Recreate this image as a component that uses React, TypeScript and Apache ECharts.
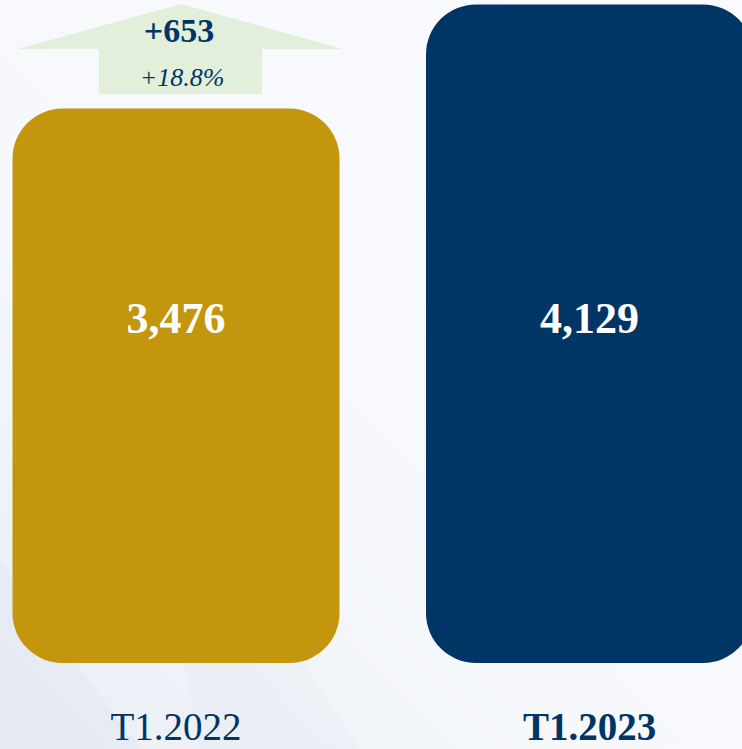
import React, { useEffect, useRef } from "react";
import * as echarts from "echarts";

const categories = ["T1.2022", "T1.2023"];
const values = [3476, 4129];
const barColors = ["#C4960D", "#003566"];

const diff = values[1] - values[0];
const pct = (diff / values[0]) * 100;
const FONT = "'Liberation Serif', 'DejaVu Serif', serif";
const NAVY = "#003566";

export default function App() {
  const ref = useRef<HTMLDivElement>(null);
  useEffect(() => {
    if (!ref.current) return;
    const chart = echarts.init(ref.current, null, { renderer: "svg" });
    const labelValue = 2157;
    chart.setOption({
      animation: false,
      backgroundColor: {
        type: "linear",
        x: 1, y: 0, x2: 0, y2: 1,
        colorStops: [
          { offset: 0, color: "#FAFBFE" },
          { offset: 0.6, color: "#F6F8FC" },
          { offset: 1, color: "#E9EEF5" },
        ],
      },
      grid: {
        left: 176,
        right: 152.5,
        top: 0,
        bottom: 86,
        containLabel: false,
        outerBoundsMode: "none",
      },
      xAxis: {
        type: "category",
        data: categories,
        boundaryGap: false,
        axisLine: { show: false },
        axisTick: { show: false },
        axisLabel: {
          margin: 44,
          formatter: (v: string, i: number) => (i === 1 ? `{b|${v}}` : `{a|${v}}`),
          rich: {
            a: { fontFamily: FONT, fontSize: 39, color: NAVY, fontWeight: "normal" },
            b: { fontFamily: FONT, fontSize: 39, color: NAVY, fontWeight: "bold" },
          },
        },
      },
      yAxis: { type: "value", min: 0, max: 4157, show: false },
      graphic: [
        {
          type: "polygon",
          silent: true,
          z: -1,
          shape: { points: [[0, 560], [140, 749], [0, 749]] },
          style: { fill: "rgba(200,210,225,0.15)" },
        },
        {
          type: "polygon",
          silent: true,
          z: -1,
          shape: { points: [[140, 420], [360, 749], [200, 749]] },
          style: { fill: "rgba(210,218,230,0.12)" },
        },
        {
          type: "polygon",
          silent: true,
          z: 10,
          shape: {
            points: [
              [18, 49], [181, 4], [343, 49], [262, 49], [262, 94], [99, 94], [99, 49],
            ],
          },
          style: { fill: "#E2EFDA" },
        },
        {
          type: "text",
          z: 11,
          x: 179, y: 30,
          style: {
            text: `+${diff}`,
            fontFamily: FONT, fontSize: 34, fontWeight: "bold", fill: NAVY,
            align: "center", verticalAlign: "middle",
          },
        },
        {
          type: "text",
          z: 11,
          x: 182, y: 77,
          style: {
            text: `+${pct.toFixed(1)}%`,
            fontFamily: FONT, fontSize: 26, fontStyle: "italic", fill: NAVY,
            align: "center", verticalAlign: "middle",
          },
        },
      ],
      series: [
        {
          type: "bar",
          barWidth: 327,
          clip: false,
          data: values.map((v, i) => ({
            value: v,
            itemStyle: { color: barColors[i], borderRadius: 50 },
          })),
        },
        {
          type: "scatter",
          symbolSize: 0,
          silent: true,
          clip: false,
          z: 5,
          itemStyle: { opacity: 1 },
          data: values.map(() => labelValue),
          label: {
            show: true,
            position: "inside",
            formatter: (p: any) => values[p.dataIndex].toLocaleString("en-US"),
            fontFamily: FONT,
            fontSize: 44,
            fontWeight: "bold",
            color: "#FFFFFF",
            opacity: 1,
          },
        },
      ],
    });
    return () => chart.dispose();
  }, []);
  return (
    <div
      ref={ref}
      style={{ position: "fixed", left: 0, top: 0, width: 742, height: 749 }}
    />
  );
}
